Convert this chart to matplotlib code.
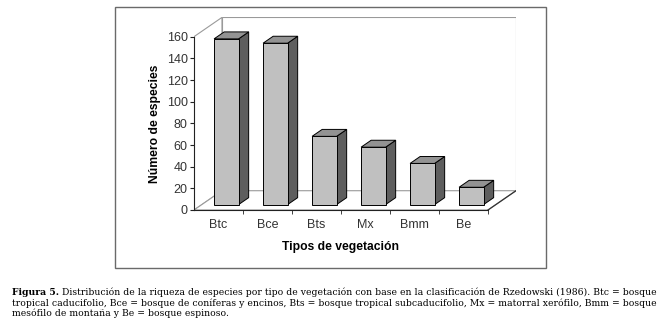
import matplotlib
matplotlib.use('Agg')
import matplotlib.pyplot as plt
from matplotlib.patches import Polygon, Rectangle

# datos
categorias = ['Btc', 'Bce', 'Bts', 'Mx', 'Bmm', 'Be']
especies = [153, 149, 63, 53, 38, 16]
yticks = [0, 20, 40, 60, 80, 100, 120, 140, 160]

caption_bold = 'Figura 5.'
caption_l1 = (' Distribución de la riqueza de especies por tipo de vegetación con base en '
              'la clasificación de Rzedowski (1986). Btc = bosque')
caption_l2 = ('tropical caducifolio, Bce = bosque de coníferas y encinos, Bts = bosque '
              'tropical subcaducifolio, Mx = matorral xerófilo, Bmm = bosque')
caption_l3 = 'mesófilo de montaña y Be = bosque espinoso.'

W, H = 658, 329
fig = plt.figure(figsize=(W / 100, H / 100), dpi=100)

# profundidad 3D (unidades de datos)
dx, dy = 0.571, 17.8
ymax = 160
ncat = len(categorias)

ax = fig.add_axes([194 / W, 119 / H, (ncat + dx) * 49 / W, (ymax + dy) * 1.0833 / H])
ax.set_xlim(0, ncat + dx)
ax.set_ylim(0, ymax + dy)
ax.patch.set_visible(False)

wall = '#9a9a9a'
# pared del fondo, pared lateral y piso
ax.add_patch(Polygon([(dx, dy), (ncat + dx, dy), (ncat + dx, ymax + dy), (dx, ymax + dy)],
                     closed=True, fc='white', ec=wall, lw=0.8))
ax.add_patch(Polygon([(0, 0), (dx, dy), (dx, ymax + dy), (0, ymax)],
                     closed=True, fc='white', ec=wall, lw=0.8))
ax.add_patch(Polygon([(0, 0), (ncat, 0), (ncat + dx, dy), (dx, dy)],
                     closed=True, fc='white', ec=wall, lw=0.8))
ax.plot([ncat, ncat + dx], [0, dy], color='#333333', lw=0.9)

# barras 3D
f0, f1 = 0.28, 0.64
bw = 0.5
for i, v in enumerate(especies):
    xl = i + 0.25 + f0 * dx
    xr = xl + bw
    yb = f0 * dy
    yt = yb + v
    ddx = (f1 - f0) * dx
    ddy = (f1 - f0) * dy
    ax.add_patch(Polygon([(xr, yb), (xr + ddx, yb + ddy), (xr + ddx, yt + ddy), (xr, yt)],
                         closed=True, fc='#5e5e5e', ec='black', lw=0.7))
    ax.add_patch(Polygon([(xl, yt), (xr, yt), (xr + ddx, yt + ddy), (xl + ddx, yt + ddy)],
                         closed=True, fc='#939393', ec='black', lw=0.7))
    ax.add_patch(Rectangle((xl, yb), bw, v, fc='#c0c0c0', ec='black', lw=0.7))

# ejes
for s in ['top', 'right']:
    ax.spines[s].set_visible(False)
ax.spines['left'].set_bounds(0, ymax)
ax.spines['bottom'].set_bounds(0, ncat)
ax.spines['left'].set_color('#222222')
ax.spines['bottom'].set_color('#222222')
ax.set_yticks(yticks)
ax.set_yticklabels([str(t) for t in yticks], fontsize=9, family='Liberation Sans', color='#333333')
ax.tick_params(axis='y', length=3, pad=1.5, color='#222222')
ax.set_xticks([i + 0.5 for i in range(ncat)])
ax.set_xticklabels(categorias, fontsize=9, family='Liberation Sans', color='#333333')
ax.tick_params(axis='x', which='major', length=0, pad=6.5)
ax.set_xticks(range(1, ncat + 1), minor=True)
ax.tick_params(axis='x', which='minor', length=3, color='#222222')

ax.text((340 - 194) / ((ncat + dx) * 49), -36.7 / ((ymax + dy) * 1.0833), 'Tipos de vegetación',
        transform=ax.transAxes, ha='center', va='center', fontsize=8.7, fontweight='bold',
        family='Liberation Sans')
ax.text((155 - 194) / ((ncat + dx) * 49), 86.5 / ((ymax + dy) * 1.0833), 'Número de especies',
        transform=ax.transAxes, ha='center', va='center', rotation=90, fontsize=8.7,
        fontweight='bold', family='Liberation Sans')

# marco del grafico
fig.add_artist(Rectangle((115 / W, 1 - 268 / H), (546 - 115) / W, (268 - 7) / H,
                         transform=fig.transFigure, fill=False, ec='#6a6a6a', lw=1))

# pie de figura
cap_fs = 6.7
cap_font = 'DejaVu Serif'
x0 = 12 / W
t = fig.text(x0, 1 - 295 / H, caption_bold, fontsize=cap_fs, fontweight='bold',
             family=cap_font, va='baseline')
fig.canvas.draw()
bb = t.get_window_extent()
fig.text(bb.x1 / W, 1 - 295 / H, caption_l1, fontsize=cap_fs, family=cap_font, va='baseline')
fig.text(x0, 1 - 305.5 / H, caption_l2, fontsize=cap_fs, family=cap_font, va='baseline')
fig.text(x0, 1 - 316 / H, caption_l3, fontsize=cap_fs, family=cap_font, va='baseline')

fig.savefig('out.png', dpi=100)
